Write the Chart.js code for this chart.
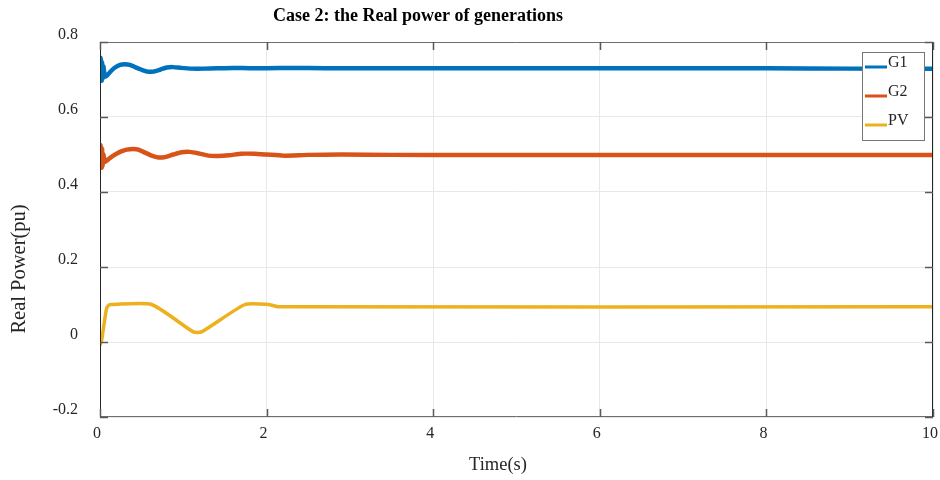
<!DOCTYPE html>
<html lang="en">
  <head>
    <meta charset="UTF-8" />
    <title>Case 2: the Real power of generations</title>
    <script src="https://cdn.jsdelivr.net/npm/chart.js"></script>
    <style>
      body {
        margin: 0;
        background: #fff;
      }
      #wrap {
        width: 940px;
        height: 480px;
      }
    </style>
  </head>
  <body>
    <div id="wrap">
      <canvas id="powerChart" width="940" height="480"></canvas>
    </div>

    <script>
      // values
      const g1Time = [0, 0.005, 0.01, 0.015, 0.02, 0.025, 0.03, 0.04, 0.06, 0.09, 0.13, 0.18, 0.24, 0.3, 0.36, 0.42, 0.5, 0.57, 0.64, 0.72, 0.8, 0.88, 0.97, 1.1, 1.25, 1.4, 1.6, 1.8, 2.0, 2.3, 2.7, 3.2, 4, 5, 6, 7, 8, 9, 10];
      const g1Power = [0.745, 0.758, 0.700, 0.752, 0.697, 0.745, 0.702, 0.735, 0.708, 0.712, 0.722, 0.732, 0.739, 0.741, 0.739, 0.733, 0.726, 0.721, 0.721, 0.726, 0.732, 0.733, 0.731, 0.729, 0.729, 0.730, 0.731, 0.730, 0.730, 0.731, 0.730, 0.730, 0.730, 0.730, 0.730, 0.730, 0.730, 0.729, 0.729];

      const g2Time = [0, 0.005, 0.01, 0.015, 0.02, 0.025, 0.03, 0.04, 0.06, 0.1, 0.16, 0.24, 0.32, 0.4, 0.46, 0.54, 0.62, 0.7, 0.78, 0.88, 0.98, 1.08, 1.18, 1.3, 1.42, 1.55, 1.7, 1.85, 2.0, 2.2, 2.5, 2.9, 3.5, 4.5, 6, 8, 10];
      const g2Power = [0.505, 0.525, 0.468, 0.52, 0.465, 0.515, 0.47, 0.5, 0.48, 0.487, 0.497, 0.507, 0.513, 0.515, 0.513, 0.505, 0.497, 0.492, 0.493, 0.5, 0.506, 0.507, 0.503, 0.497, 0.496, 0.498, 0.502, 0.502, 0.5, 0.497, 0.499, 0.5, 0.499, 0.499, 0.499, 0.499, 0.499];

      const pvTime = [0, 0.02, 0.05, 0.08, 0.11, 0.14, 0.62, 1.12, 1.22, 1.74, 2.02, 2.14, 10];
      const pvPower = [-0.008, 0.005, 0.05, 0.09, 0.099, 0.1, 0.1, 0.027, 0.027, 0.1, 0.1, 0.094, 0.094];

      const seriesNames = ["G1", "G2", "PV"];
      const seriesColors = ["#0072BD", "#D95319", "#EDB120"];
      const xTicks = [0, 2, 4, 6, 8, 10];
      const yTicks = [-0.2, 0, 0.2, 0.4, 0.6, 0.8];

      const textColor = "#262626";
      const serif = "'Liberation Serif', 'DejaVu Serif', serif";

      const toPoints = (ts, vs) => ts.map((t, i) => ({ x: t, y: vs[i] }));

      // frame, inward ticks, legend and titles drawn like the MATLAB figure
      const figurePlugin = {
        id: "figure",
        afterDatasetsDraw(chart) {
          const { ctx, chartArea: a, scales } = chart;
          ctx.save();

          // box
          ctx.lineWidth = 1;
          ctx.strokeStyle = "#6e6e6e";
          ctx.beginPath();
          ctx.moveTo(a.left, a.top + 0.5);
          ctx.lineTo(a.right, a.top + 0.5);
          ctx.moveTo(a.left, a.bottom - 0.5);
          ctx.lineTo(a.right, a.bottom - 0.5);
          ctx.stroke();
          ctx.strokeStyle = "#262626";
          ctx.beginPath();
          ctx.moveTo(a.left + 0.5, a.top);
          ctx.lineTo(a.left + 0.5, a.bottom);
          ctx.moveTo(a.right - 0.5, a.top);
          ctx.lineTo(a.right - 0.5, a.bottom);
          ctx.stroke();

          // inward ticks
          ctx.strokeStyle = "#5a5a5a";
          ctx.lineWidth = 1.5;
          ctx.beginPath();
          xTicks.forEach((v) => {
            const px = Math.round(scales.x.getPixelForValue(v)) + 0.5;
            ctx.moveTo(px, a.bottom);
            ctx.lineTo(px, a.bottom - 8);
            ctx.moveTo(px, a.top);
            ctx.lineTo(px, a.top + 8);
          });
          yTicks.forEach((v) => {
            const py = Math.round(scales.y.getPixelForValue(v)) + 0.5;
            ctx.moveTo(a.left, py);
            ctx.lineTo(a.left + 8, py);
            ctx.moveTo(a.right, py);
            ctx.lineTo(a.right - 8, py);
          });
          ctx.stroke();

          // legend
          const lx = a.right - 71;
          const ly = a.top + 10;
          ctx.fillStyle = "#fff";
          ctx.fillRect(lx, ly, 62, 88);
          ctx.strokeStyle = "#777";
          ctx.lineWidth = 1;
          ctx.strokeRect(lx + 0.5, ly + 0.5, 62, 88);
          ctx.font = "16px " + serif;
          ctx.textBaseline = "alphabetic";
          ctx.textAlign = "left";
          seriesNames.forEach((name, i) => {
            const rowY = ly + 15 + i * 29;
            ctx.strokeStyle = seriesColors[i];
            ctx.lineWidth = 3;
            ctx.beginPath();
            ctx.moveTo(lx + 3, rowY);
            ctx.lineTo(lx + 25, rowY);
            ctx.stroke();
            ctx.fillStyle = textColor;
            ctx.fillText(name, lx + 26, rowY);
          });

          // titles
          ctx.textBaseline = "middle";
          ctx.fillStyle = "#000";
          ctx.textAlign = "center";
          ctx.font = "bold 18px " + serif;
          ctx.fillText("Case 2: the Real power of generations", 418, 16);
          ctx.fillStyle = textColor;
          ctx.font = "18.5px " + serif;
          ctx.fillText("Time(s)", 498, 465);
          ctx.font = "20.5px " + serif;
          ctx.translate(20, 269);
          ctx.rotate(-Math.PI / 2);
          ctx.fillText("Real Power(pu)", 0, 0);

          ctx.restore();
        },
      };

      const fmt = (v) => String(Math.round(v * 10) / 10);

      new Chart(document.getElementById("powerChart"), {
        type: "line",
        data: {
          datasets: [
            { label: seriesNames[0], data: toPoints(g1Time, g1Power), borderColor: seriesColors[0], borderWidth: 4.5 },
            { label: seriesNames[1], data: toPoints(g2Time, g2Power), borderColor: seriesColors[1], borderWidth: 4.5 },
            { label: seriesNames[2], data: toPoints(pvTime, pvPower), borderColor: seriesColors[2], borderWidth: 3.5 },
          ],
        },
        options: {
          responsive: false,
          animation: false,
          parsing: false,
          elements: {
            point: { radius: 0 },
            line: { tension: 0.2, borderJoinStyle: "round", borderCapStyle: "round", fill: false },
          },
          layout: {
            autoPadding: false,
            padding: { left: 0, top: 42, right: 7, bottom: 0 },
          },
          plugins: {
            legend: { display: false },
            title: { display: false },
            tooltip: { enabled: false },
          },
          scales: {
            x: {
              type: "linear",
              min: 0,
              max: 10,
              afterFit: (s) => {
                s.height = 63;
                s.paddingLeft = 0;
                s.paddingRight = 0;
              },
              afterBuildTicks: (s) => (s.ticks = xTicks.map((v) => ({ value: v }))),
              grid: { color: "#e8e8e8", drawTicks: false },
              border: { display: false },
              ticks: {
                color: textColor,
                font: { family: serif, size: 16 },
                padding: 7,
                labelOffset: -3,
                maxRotation: 0,
                callback: fmt,
              },
            },
            y: {
              type: "linear",
              min: -0.2,
              max: 0.8,
              afterFit: (s) => {
                s.width = 100;
                s.paddingTop = 0;
                s.paddingBottom = 0;
              },
              afterBuildTicks: (s) => (s.ticks = yTicks.map((v) => ({ value: v }))),
              grid: { color: "#e8e8e8", drawTicks: false },
              border: { display: false },
              ticks: {
                color: textColor,
                font: { family: serif, size: 16 },
                padding: 22,
                labelOffset: -7,
                callback: fmt,
              },
            },
          },
        },
        plugins: [figurePlugin],
      });
    </script>
  </body>
</html>
